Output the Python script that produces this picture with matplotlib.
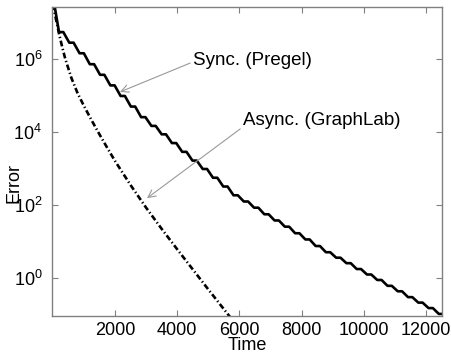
import numpy as np
import matplotlib
matplotlib.use("Agg")
import matplotlib.pyplot as plt

plt.rcParams["font.family"] = ["Liberation Sans", "DejaVu Sans"]
plt.rcParams["mathtext.default"] = "regular"
plt.rcParams["font.size"] = 13

# --- data (log10 of error) ---
sync_time = [0, 200, 530, 860, 1190, 1520, 1850, 2180, 2510, 2840, 3170, 3500,
             3830, 4160, 4490, 4820, 5150, 5480, 5810, 6140, 6470, 6800, 7130,
             7460, 7790, 8120, 8450, 8780, 9110, 9440, 9770, 10100, 10430,
             10760, 11090, 11420, 11750, 12080, 12410, 12740]
sync_log_err = [7.75, 6.74, 6.45, 6.16, 5.86, 5.57, 5.28, 4.99, 4.70, 4.41,
                4.17, 3.94, 3.70, 3.46, 3.22, 2.99, 2.75, 2.51, 2.27, 2.10,
                1.93, 1.75, 1.58, 1.41, 1.23, 1.06, 0.88, 0.71, 0.56, 0.41,
                0.25, 0.10, -0.05, -0.21, -0.36, -0.52, -0.67, -0.82, -0.98,
                -1.13]

async_time = [0, 100, 200, 300, 400, 600, 800, 1000, 1250, 1500, 1750, 2000,
              2500, 3000, 3500, 4000, 4500, 5000, 5500, 5750]
async_log_err = [7.50, 7.10, 6.70, 6.34, 6.01, 5.48, 5.06, 4.72, 4.32, 3.94,
                 3.57, 3.21, 2.55, 1.93, 1.35, 0.79, 0.24, -0.31, -0.85, -1.12]

xticks = [2000, 4000, 6000, 8000, 10000, 12000]
yticks_exp = [0, 2, 4, 6]

# synchronous curve drawn as iteration staircase (plateau then drop)
st = np.asarray(sync_time, float)
se = np.asarray(sync_log_err, float)
px, py = [st[0]], [se[0]]
for i in range(1, len(st)):
    px.append(st[i]); py.append(se[i])
    if i < len(st) - 1:
        px.append(st[i] + 0.42 * (st[i + 1] - st[i])); py.append(se[i])
px = np.array(px); py = 10.0 ** np.array(py)

fig = plt.figure(figsize=(4.52, 3.54), dpi=100)
ax = fig.add_axes([0.115, 0.107, 0.863, 0.873])

ax.plot(px, py, color="black", lw=1.9, solid_joinstyle="round")
ax.plot(async_time, 10.0 ** np.asarray(async_log_err), color="black", lw=1.9,
        linestyle=(0, (2.2, 1.0, 0.5, 1.0)))

ax.set_yscale("log")
ax.set_xlim(-26, 12514)
ax.set_ylim(10 ** -1.04, 10 ** 7.425)
ax.set_xticks(xticks)
ax.set_yticks([10.0 ** e for e in yticks_exp])
ax.set_yticklabels([r"$10^{%d}$" % e for e in yticks_exp])
ax.minorticks_off()
ax.tick_params(direction="in", top=True, right=True, length=4, width=0.8,
               color="#808080", labelsize=13)
ax.tick_params(axis="y", pad=7)
ax.tick_params(axis="x", pad=4)
for s in ax.spines.values():
    s.set_color("#808080")
    s.set_linewidth(1.0)

ax.set_xlabel("Time", fontsize=13, labelpad=-1)
ax.set_ylabel("Error", fontsize=13)
ax.yaxis.set_label_coords(-0.075, 0.43)

arrow = dict(arrowstyle="->", color="#999999", lw=0.8, shrinkA=0, shrinkB=0)
ax.annotate("Sync. (Pregel)", xy=(2160, 10 ** 5.10), xytext=(4507, 10 ** 5.97),
            ha="left", va="center", fontsize=13.5,
            arrowprops=dict(arrow, relpos=(0, 0.4)))
ax.annotate("Async. (GraphLab)", xy=(3028, 10 ** 2.19), xytext=(6115, 10 ** 4.33),
            ha="left", va="center", fontsize=13.5,
            arrowprops=dict(arrow, relpos=(0, 0.1)))

fig.savefig("out.png", dpi=100)
